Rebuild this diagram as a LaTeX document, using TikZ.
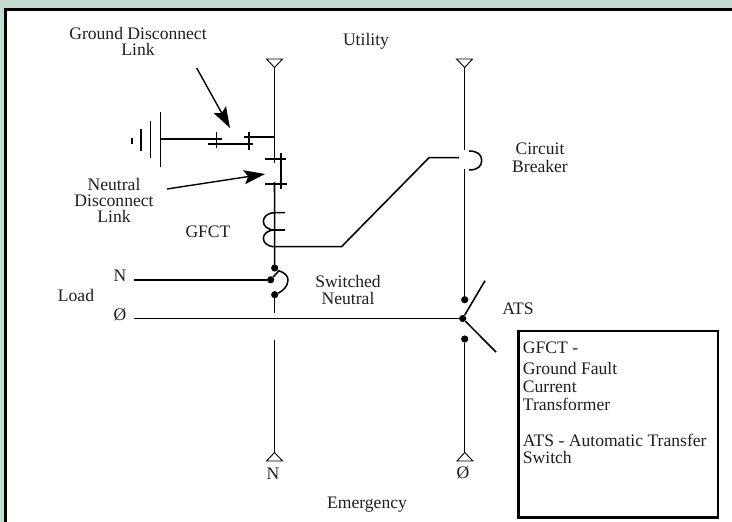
\documentclass[tikz,border=0pt]{standalone}
\usepackage{fontspec}
\setmainfont{Liberation Serif}
\usetikzlibrary{arrows.meta}
\definecolor{bgc}{HTML}{C5DDD0}
\tikzset{
  x=1pt,y=-1pt,
  wire/.style={line width=1.55pt,line cap=butt},
  lbl/.style={font=\fontsize{17.6}{16.3}\selectfont,align=center,inner sep=0pt,text=black!88},
  lft/.style={font=\fontsize{17.6}{17.8}\selectfont,align=left,inner sep=0pt,anchor=north west,text=black!88},
  tri/.style={line width=.9pt,fill=white,line join=miter},
  ptr/.style={line width=1.4pt,-{Stealth[length=21pt,width=14pt,inset=4pt]}},
  contact/.style={circle,fill=black,inner sep=0pt,minimum size=7.2pt},
}
\begin{document}
\begin{tikzpicture}
\useasboundingbox (0,0) rectangle (732,522);
\fill[bgc] (0,0) rectangle (732,522);
\fill[white] (5,9) rectangle (732,522);
\draw[line width=2.6pt] (5.3,522) -- (5.3,9.3) -- (732,9.3);
% labels
\node[lbl] (tGD) at (138,41.5) {Ground Disconnect\\Link};
\node[lbl] (tUt) at (366,41) {Utility};
\node[lbl] (tCB) at (540,157.5) {Circuit\\[2pt]Breaker};
\node[lbl] (tND) at (114,200.5) {Neutral\\Disconnect\\Link};
\node[lbl] (tGF) at (208,232) {GFCT};
\node[lbl] (tSN) at (348,290) {Switched\\Neutral};
\node[lbl] (tNl) at (120,276) {N};
\node[lbl] (tLo) at (76,295) {Load};
\node[lbl] (tOl) at (120,315) {Ø};
\node[lbl] (tAT) at (518,309) {ATS};
\node[lbl] (tNb) at (273,474) {N};
\node[lbl] (tOb) at (463,473) {Ø};
\node[lbl] (tEm) at (367,505) {Emergency};
% key box
\node[draw,line width=2.5pt,minimum width=199.5pt,minimum height=186.5pt,anchor=north west,inner sep=0pt] (key) at (517,329.5) {};
\node[lft] (tKey) at (522.7,342) {GFCT -\\[3pt]Ground Fault\\Current\\Transformer\\[18pt]ATS - Automatic Transfer\\Switch};
% terminals
\draw[tri] (266.5,59) -- (282.5,59) -- (274.5,67.5) -- cycle;
\draw[tri] (456.5,59) -- (472.5,59) -- (464.7,67.5) -- cycle;
\draw[tri] (266.5,461) -- (282.5,461) -- (274.5,452.5) -- cycle;
\draw[tri] (457,461) -- (473,461) -- (464.7,452.5) -- cycle;
% named points
\coordinate (nTop) at (274.5,67.5);
\coordinate (nGap1) at (274.5,163);
\coordinate (nGap2) at (274.5,182);
\coordinate (nSw) at (274.7,268);
\coordinate (nLow) at (274.7,294.7);
\coordinate (nEnd) at (274.7,312.6);
\coordinate (nEm) at (274.5,340);
\coordinate (nBot) at (274.5,452.5);
\coordinate (uTop) at (464.7,67.5);
\coordinate (cbT) at (464.7,150);
\coordinate (cbB) at (464.7,168.5);
\coordinate (uCon) at (464.7,299.7);
\coordinate (pole) at (462.7,318.5);
\coordinate (eCon) at (464.7,339);
\coordinate (eBot) at (464.7,452.5);
\coordinate (lN) at (134,279.8);
\coordinate (lO) at (134,318.5);
% neutral line
\draw[wire] (nTop) -- (nGap1);
\draw[wire] (nGap2) -- (nSw);
\draw[wire] (nLow) -- (nEnd);
\draw[wire] (nEm) -- (nBot);
% ground
\draw[wire] (160.5,112) -- (160.5,167);
\draw[wire] (150.5,121) -- (150.5,158);
\draw[wire] (141,129) -- (141,151);
\draw[wire] (132,138) -- (132,144);
\draw[wire] (160.5,139) -- (222,139);
\draw[wire] (216.7,132) -- (216.7,148);
\draw[wire] (208,144) -- (253,144);
\draw[wire] (249,132) -- (249,150);
\draw[wire] (244,137) -- (274.5,137);
% neutral link
\draw[wire] (265,159) -- (286,159);
\draw[wire] (265,184) -- (287,184);
\draw[wire] (281,153) -- (281,189);
% GFCT
\draw[wire] (285,212.7) -- (275,212.7) .. controls (259.5,212.7) and (259.5,230) .. (275,230) -- (285,230);
\draw[wire] (275,230) .. controls (259.5,230) and (259.5,246.7) .. (275,246.7);
\draw[wire] (274.5,246.7) -- (341.5,246.7) -- (429,157.7) -- (459,157.7);
% breaker
\draw[wire] (uTop) -- (cbT);
\draw[wire] (cbB) -- (uCon);
\draw[wire] (469,151) .. controls (478,151) and (481.7,155) .. (481.7,160.5) .. controls (481.7,166) and (478,170) .. (469,170);
% switched neutral
\node[contact] (sA) at (nSw) {};
\node[contact] (sB) at (270.7,279.8) {};
\node[contact] (sC) at (nLow) {};
\draw[wire] (lN) -- (sB);
\draw[wire] (sB) -- (279,270.7) .. controls (285,273) and (288,276) .. (288,280) .. controls (288,286) and (283,291) .. (sC);
% phase
\node[contact] (pU) at (uCon) {};
\node[contact] (pM) at (pole) {};
\node[contact] (pE) at (eCon) {};
\coordinate (armU) at (485,280.7);
\coordinate (armD) at (496,352);
\draw[wire] (lO) -- (pM);
\draw[wire] (pM) -- (armU);
\draw[wire] (pM) -- (armD);
\draw[wire] (pE) -- (eBot);
% pointers
\coordinate (a1s) at (196.7,68);
\coordinate (a1e) at (230,128);
\coordinate (a2s) at (167,189);
\coordinate (a2e) at (265,174);
\draw[ptr] (a1s) -- (a1e);
\draw[ptr] (a2s) -- (a2e);
\end{tikzpicture}
\end{document}
